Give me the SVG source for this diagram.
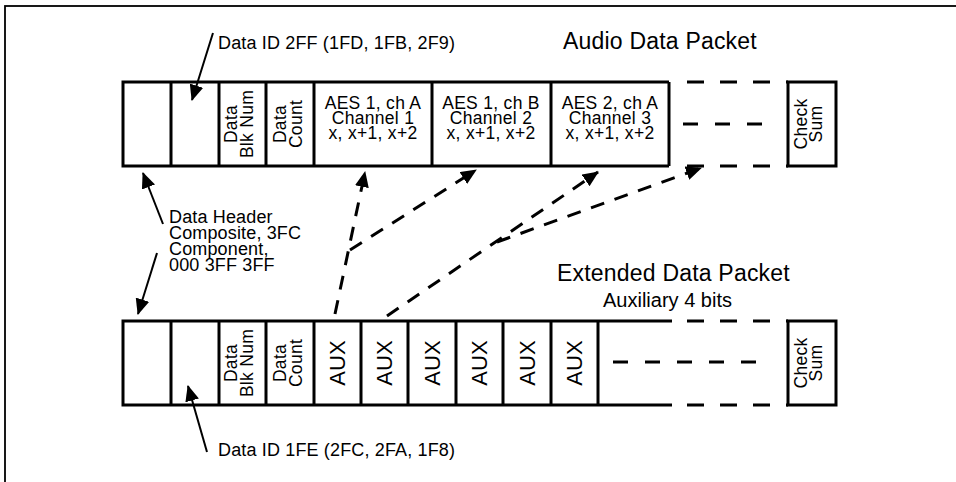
<svg xmlns="http://www.w3.org/2000/svg" width="956" height="482" viewBox="0 0 956 482">
<style>
text{font-family:"Liberation Sans",Arial,sans-serif;fill:#000}
.lbl{font-size:18px;letter-spacing:0.15px}
.cell{font-size:17.5px;letter-spacing:0.3px;text-anchor:middle}
.title{font-size:23px;letter-spacing:0.2px}
.aux{font-size:22px;text-anchor:middle}
.box{fill:none;stroke:#000;stroke-width:3}
.solid{fill:none;stroke:#000;stroke-width:3}
.dash{fill:none;stroke:#000;stroke-width:3;stroke-dasharray:17 16}
.dashm{fill:none;stroke:#000;stroke-width:3;stroke-dasharray:15 17}
.arr{fill:none;stroke:#000;stroke-width:2;marker-end:url(#ah)}
.darr{fill:none;stroke:#000;stroke-width:3;stroke-dasharray:14 11;marker-end:url(#ah)}
</style>
<defs>
<marker id="ah" markerUnits="userSpaceOnUse" markerWidth="16" markerHeight="14" refX="15" refY="7" orient="auto">
<path d="M0,0 L16,7 L0,14 Z" fill="#000"/>
</marker>
</defs>
<rect x="0" y="0" width="956" height="482" fill="#fff"/>
<rect id="frame" x="5" y="6" width="980" height="500" fill="none" stroke="#000" stroke-width="1.8"/>

<g id="audio-packet">
<text class="title" x="563" y="49">Audio Data Packet</text>
<path class="solid" d="M669,82 L123,82 L123,166 L669,166"/>
<path class="solid" d="M171,82 V166 M219,82 V166 M266,82 V166 M314,82 V166 M432,82 V166 M551,82 V166 M669,82 V166"/>
<path class="dash" d="M687,82 H788 M687,166 H788"/>
<path class="dashm" d="M683,124 H770"/>
<rect class="box" x="788" y="82" width="48" height="84"/>
<text class="cell" transform="translate(237,124) rotate(-90)">Data</text>
<text class="cell" transform="translate(253,124) rotate(-90)">Blk Num</text>
<text class="cell" transform="translate(286,124) rotate(-90)">Data</text>
<text class="cell" transform="translate(302,124) rotate(-90)">Count</text>
<text class="cell" x="373" y="109">AES 1, ch A</text>
<text class="cell" x="373" y="124">Channel 1</text>
<text class="cell" x="373" y="139">x, x+1, x+2</text>
<text class="cell" x="491" y="109">AES 1, ch B</text>
<text class="cell" x="491" y="124">Channel 2</text>
<text class="cell" x="491" y="139">x, x+1, x+2</text>
<text class="cell" x="610" y="109">AES 2, ch A</text>
<text class="cell" x="610" y="124">Channel 3</text>
<text class="cell" x="610" y="139">x, x+1, x+2</text>
<text class="cell" transform="translate(807,124) rotate(-90)">Check</text>
<text class="cell" transform="translate(822,124) rotate(-90)">Sum</text>
</g>

<g id="extended-packet">
<text class="title" x="557" y="281">Extended Data Packet</text>
<text x="603" y="307" style="font-size:20px">Auxiliary 4 bits</text>
<path class="solid" d="M672,321 L123,321 L123,405 L672,405"/>
<path class="solid" d="M171,321 V405 M219,321 V405 M266,321 V405 M314,321 V405 M361,321 V405 M408,321 V405 M456,321 V405 M503,321 V405 M551,321 V405 M598,321 V405"/>
<path class="dash" d="M687,321 H788 M687,405 H788"/>
<path class="dashm" d="M613,362 H770"/>
<rect class="box" x="788" y="321" width="48" height="84"/>
<text class="cell" transform="translate(237,363) rotate(-90)">Data</text>
<text class="cell" transform="translate(253,363) rotate(-90)">Blk Num</text>
<text class="cell" transform="translate(286,363) rotate(-90)">Data</text>
<text class="cell" transform="translate(302,363) rotate(-90)">Count</text>
<text class="aux" transform="translate(345,363) rotate(-90)">AUX</text>
<text class="aux" transform="translate(392,363) rotate(-90)">AUX</text>
<text class="aux" transform="translate(440,363) rotate(-90)">AUX</text>
<text class="aux" transform="translate(487,363) rotate(-90)">AUX</text>
<text class="aux" transform="translate(535,363) rotate(-90)">AUX</text>
<text class="aux" transform="translate(582,363) rotate(-90)">AUX</text>
<text class="cell" transform="translate(807,363) rotate(-90)">Check</text>
<text class="cell" transform="translate(822,363) rotate(-90)">Sum</text>
</g>

<g id="label-dataid-top">
<text class="lbl" x="218" y="49">Data ID 2FF (1FD, 1FB, 2F9)</text>
</g>
<g id="label-header">
<text class="lbl" x="169" y="223">Data Header</text>
<text class="lbl" x="169" y="239">Composite, 3FC</text>
<text class="lbl" x="169" y="255">Component,</text>
<text class="lbl" x="169" y="271">000 3FF 3FF</text>
</g>
<g id="label-dataid-bottom">
<text class="lbl" x="218" y="456">Data ID 1FE (2FC, 2FA, 1F8)</text>
</g>

<g id="connectors">
<path class="arr" d="M213,33 L192,100"/>
<path class="arr" d="M163,224 L143,173"/>
<path class="arr" d="M157,253 L138,314"/>
<path class="arr" d="M207,452 L188,386"/>
<path class="darr" d="M335,314 L365,172"/>
<path class="darr" d="M350,250 L476,170"/>
<path class="darr" d="M387,316 L598,172"/>
<path class="darr" d="M497,242 L701,168"/>
</g>
</svg>
